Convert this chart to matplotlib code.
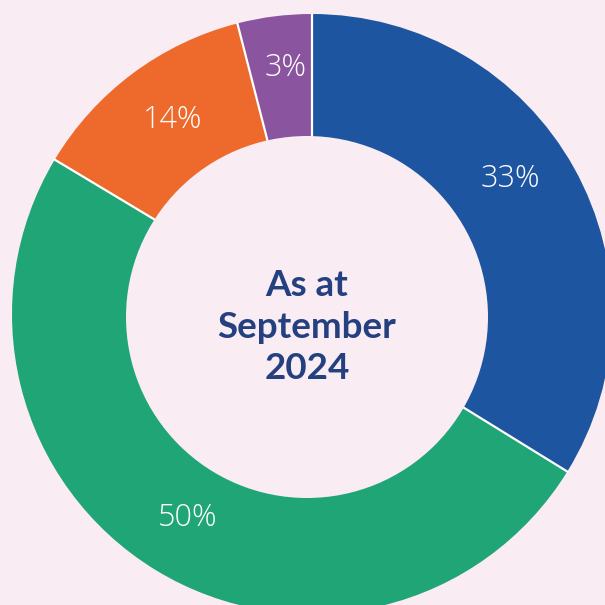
import matplotlib
matplotlib.use("Agg")
import matplotlib.pyplot as plt
from matplotlib.patches import Circle
import numpy as np

# Data
categories = ["Blue", "Green", "Orange", "Purple"]
values = [33.8, 49.8, 12.4, 4.0]
labels = ["33%", "50%", "14%", "3%"]
colors = ["#1D55A0", "#20A577", "#EE6A2C", "#8A549E"]
center_text = "As at\nSeptember\n2024"

# label placement style (angle nudge in degrees, radius in px)
label_nudge = [5, 0, -1, -1]
label_radius = [240, 239, 239, 247]

bg = "#F9ECF3"
W = H = 605
fig = plt.figure(figsize=(W / 100, H / 100), dpi=100, facecolor=bg)
ax = fig.add_axes([0, 0, 1, 1])
ax.set_facecolor(bg)

cx, cy = 312, H - 314
R_out = 300
hx, hy, R_in = 307, H - 317, 181

wedges, _ = ax.pie(values, colors=colors, startangle=90, counterclock=False,
                   center=(cx, cy), radius=R_out, frame=True,
                   wedgeprops=dict(linewidth=0))
ax.set_xlim(0, W)
ax.set_ylim(0, H)
ax.set_aspect("equal")
ax.axis("off")

# white separators between slices
for w in wedges:
    a = np.deg2rad(w.theta1)
    ax.plot([cx, cx + (R_out + 1) * np.cos(a)],
            [cy, cy + (R_out + 1) * np.sin(a)],
            color="white", lw=1.6, solid_capstyle="butt", zorder=3)

# hole
ax.add_patch(Circle((hx, hy), R_in, facecolor=bg, edgecolor="none", zorder=3.5))

for w, lab, dn, r in zip(wedges, labels, label_nudge, label_radius):
    ang = np.deg2rad((w.theta1 + w.theta2) / 2 + dn)
    ax.text(cx + r * np.cos(ang), cy + r * np.sin(ang), lab,
            ha="center", va="center", color="white", fontsize=22,
            family="Open Sans", fontweight="light", zorder=4)

ax.text(hx, hy - 10, center_text, ha="center", va="center", color="#24407F",
        fontsize=26.5, family="Lato", fontweight="bold", linespacing=1.3, zorder=5)

fig.savefig("out.png", dpi=100, facecolor=bg)
